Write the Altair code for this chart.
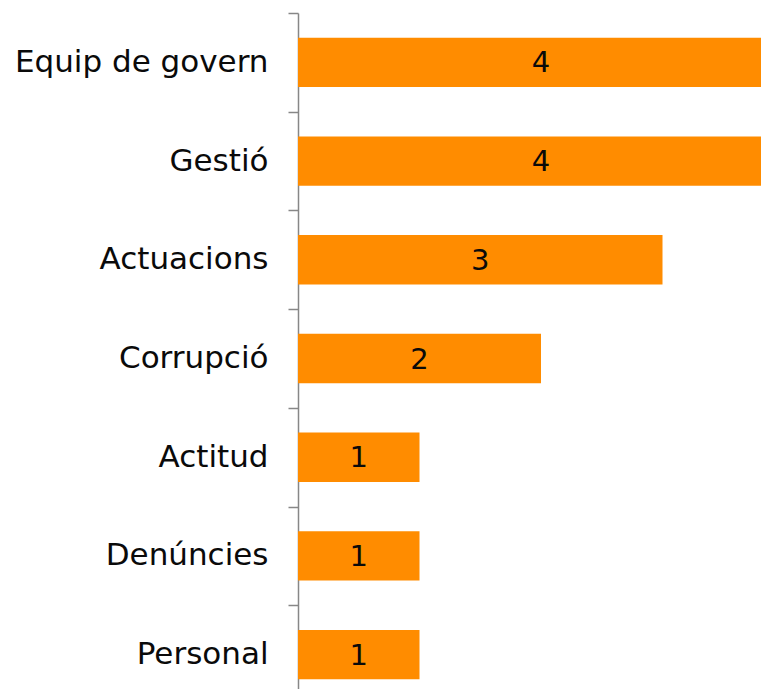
import altair as alt
import pandas as pd

categories = ["Equip de govern", "Gestió", "Actuacions", "Corrupció", "Actitud", "Denúncies", "Personal"]
values = [4, 4, 3, 2, 1, 1, 1]

df = pd.DataFrame({"cat": categories, "value": values})

FONT = "DejaVu Sans"
AXIS_GRAY = "#878787"
ORANGE = "#FF8C00"

y_enc = alt.Y(
    "cat:N",
    sort=categories,
    scale=alt.Scale(range=[0, 691], paddingInner=0.5, paddingOuter=0.25),
    axis=alt.Axis(
        title=None,
        tickOffset=-49.35,
        labelOffset=49.35,
        tickSize=10,
        labelPadding=20,
        labelFontSize=31,
        labelFont=FONT,
        labelColor="#0a0a0a",
        labelLimit=0,
        domainColor=AXIS_GRAY,
        tickColor=AXIS_GRAY,
        domainWidth=1.5,
        tickWidth=1.5,
    ),
)

bars = alt.Chart(df).mark_bar(color=ORANGE).encode(
    x=alt.X("value:Q", scale=alt.Scale(domain=[0, 4], range=[0, 486], nice=False), axis=None),
    y=y_enc,
)

labels = alt.Chart(df).transform_calculate(half="datum.value / 2").mark_text(
    font=FONT, fontSize=29, color="#0a0a0a", baseline="middle", align="center", dy=1
).encode(
    x=alt.X("half:Q", axis=None),
    y=alt.Y("cat:N", sort=categories),
    text=alt.Text("value:Q"),
)

chart = alt.layer(bars, labels).properties(
    width=463,
    height=676,
    autosize=alt.AutoSizeParams(type="none"),
    padding={"left": 290, "top": 5, "right": 0, "bottom": 0},
    background="white",
).configure_view(stroke=None)

chart.save("out.html", embed_options={"renderer": "svg", "actions": False})
